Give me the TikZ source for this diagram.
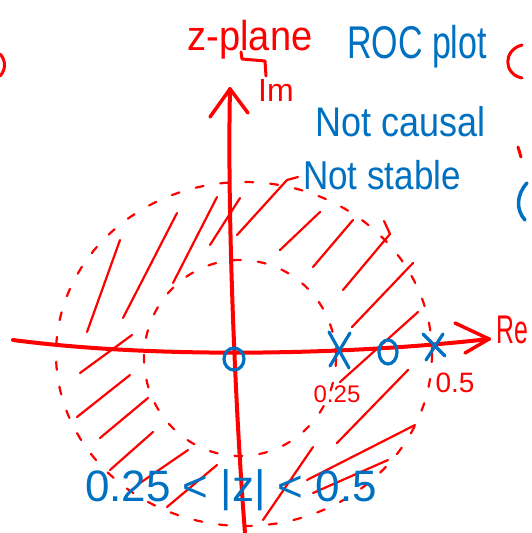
\documentclass[tikz,border=0pt]{standalone}
\usepackage{fontspec}
\setmainfont{Liberation Sans}
\definecolor{penred}{RGB}{255,0,0}
\definecolor{penblue}{RGB}{0,112,192}
\begin{document}
\begin{tikzpicture}[x=1pt,y=-1pt, line cap=round, line join=round,
  axis/.style={penred, line width=4pt},
  hatch/.style={penred, line width=2.2pt},
  roc/.style={penred, line width=2.2pt, dash pattern=on 8pt off 17pt},
  bluetext/.style={text=penblue, inner sep=0pt},
  redtext/.style={text=penred, inner sep=0pt},
  pzmark/.style={penblue, line width=3.2pt},
  pen/.style={line width=3pt}]
\useasboundingbox (0,0) rectangle (531,533);

% ROC boundaries (dashed circles)
\draw[roc] (244,354) ellipse [x radius=188, y radius=172];
\draw[roc] (240,358) ellipse [x radius=96, y radius=98];

% hatching
\foreach \a/\b/\c/\d in {
  87/332/120/240, 123/318/177/213, 173/283/217/197, 210/245/240/198,
  280/250/320/212, 313/267/353/220, 352/327/413/263, 340/382/418/312,
  80/373/132/335, 77/417/130/375, 100/438/148/398, 110/470/153/432,
  140/483/188/450, 167/507/217/465, 263/520/313/447, 337/443/408/370,
  307/480/415/425, 313/493/388/460}
  \draw[hatch] (\a,\b) -- (\c,\d);
\draw[hatch] (237,235) -- (287,180) -- (298,177);
\draw[hatch] (343,290) -- (390,234) -- (384,221);

% axes
\coordinate (reL) at (13,340);
\coordinate (reR) at (489,339);
\coordinate (imB) at (245,533);
\coordinate (imT) at (230,89);
\draw[axis] (reL) .. controls (150,358) and (340,356) .. (reR);
\draw[axis, line width=3.5pt] (455,323) -- (reR) -- (465,353);
\draw[axis] (imB) .. controls (236,420) and (227,220) .. (imT);
\draw[axis, line width=3.5pt] (210,117) -- (imT) -- (248,113);

% zeros and poles
\draw[pzmark] (234,359) ellipse [x radius=10, y radius=11];
\draw[pzmark] (388,352) ellipse [x radius=9, y radius=12];
\draw[pzmark] (329,332) -- (349,368);
\draw[pzmark] (350,333) -- (330,366);
\draw[pzmark] (423,334) -- (445,356);
\draw[pzmark] (443,334) -- (426,360);

% labels
\node[redtext, font=\fontsize{38}{38}\selectfont, yscale=1.1, transform shape] (zp) at (250,40) {z-plane};
\node[redtext, font=\fontsize{32}{32}\selectfont, anchor=west] (im) at (258,90) {Im};
\coordinate (zpfoot) at (241,52);
\draw[penred, pen] (zpfoot) -- (242,59) -- (265,61) -- (266,76);
\node[redtext, font=\fontsize{40}{40}\selectfont, anchor=west, xscale=0.62, transform shape] (re) at (496,330) {Re};
\node[bluetext, font=\fontsize{34}{34}\selectfont, yscale=1.35, transform shape] (roc) at (417,47) {ROC plot};
\node[bluetext, font=\fontsize{36}{36}\selectfont, yscale=1.15, transform shape] (nc) at (401,122) {Not causal};
\node[bluetext, font=\fontsize{35}{35}\selectfont, yscale=1.15, transform shape] (ns) at (382,175) {Not stable};
\node[redtext, font=\fontsize{24}{24}\selectfont] (p1) at (337,394) {0.25};
\node[redtext, font=\fontsize{28}{28}\selectfont] (p2) at (455,383) {0.5};
\node[bluetext, font=\fontsize{44}{44}\selectfont] (ineq) at (231,490) {0.25 < |z| < 0.5};

% cut-off marks at the edges
\draw[penred, pen] (0,54) .. controls (6,60) and (6,70) .. (0,76);
\draw[penred, pen] (522,45) .. controls (503,50) and (503,74) .. (522,78);
\draw[penred, pen] (518,147) -- (521,157);
\draw[penblue, pen, line width=3.5pt] (527,183) .. controls (516,195) and (516,210) .. (525,220);
\end{tikzpicture}
\end{document}
